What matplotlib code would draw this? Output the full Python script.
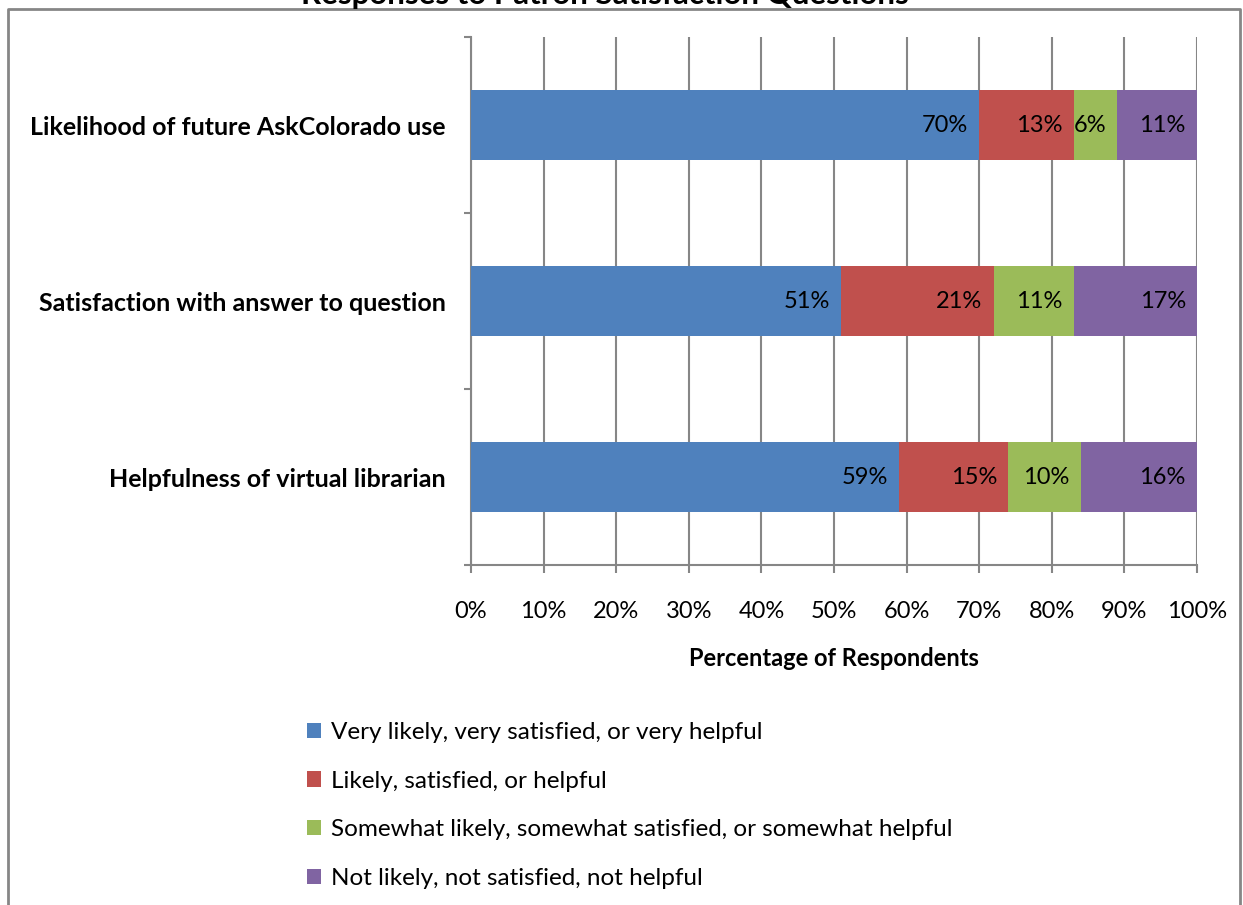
import matplotlib
matplotlib.use('Agg')

import matplotlib.pyplot as plt
from matplotlib.lines import Line2D
from matplotlib.patches import Patch

# Data
questions = ['Helpfulness of virtual librarian',
             'Satisfaction with answer to question',
             'Likelihood of future AskColorado use']
very = [59, 51, 70]
likely = [15, 21, 13]
somewhat = [10, 11, 6]
not_likely = [16, 17, 11]
series_names = ['Very likely, very satisfied, or very helpful',
                'Likely, satisfied, or helpful',
                'Somewhat likely, somewhat satisfied, or somewhat helpful',
                'Not likely, not satisfied, not helpful']
colors = ['#4F81BD', '#C0504D', '#9BBB59', '#8064A2']
xticks = list(range(0, 101, 10))

plt.rcParams['font.family'] = ['Lato', 'DejaVu Sans']
grey = '#868686'

fig = plt.figure(figsize=(12.43, 9.05), dpi=100)
ax = fig.add_axes([471 / 1243, 1 - 565 / 905, 726 / 1243, 528 / 905])

ypos = list(range(len(questions)))
left = [0] * len(questions)
for vals, col in zip([very, likely, somewhat, not_likely], colors):
    ax.barh(ypos, vals, left=left, height=0.4, color=col, zorder=3)
    for y, l, v in zip(ypos, left, vals):
        ax.annotate('%d%%' % v, xy=(l + v, y), xytext=(-8, 0),
                    textcoords='offset points', ha='right', va='center',
                    fontsize=17, zorder=4)
    left = [a + b for a, b in zip(left, vals)]

ax.set_xlim(0, 100)
ax.set_ylim(-0.5, 2.5)
ax.set_xticks(xticks)
ax.set_xticklabels(['%d%%' % t for t in xticks], fontsize=17)
ax.set_yticks(ypos)
ax.set_yticklabels(questions, fontsize=18, fontweight='bold')
ax.tick_params(axis='y', length=0, pad=18)
ax.tick_params(axis='x', length=6, color=grey, width=1.5, pad=20)
# minor ticks on y between categories
ax.set_yticks([-0.5, 0.5, 1.5, 2.5], minor=True)
ax.tick_params(axis='y', which='minor', length=5, color=grey, width=1.5)

ax.grid(axis='x', color=grey, linewidth=1.5, zorder=0)
for s in ['top', 'right']:
    ax.spines[s].set_visible(False)
for s in ['left', 'bottom']:
    ax.spines[s].set_color(grey)
    ax.spines[s].set_linewidth(1.5)

ax.set_xlabel('Percentage of Respondents', fontsize=17, fontweight='bold',
              labelpad=18)

handles = [Patch(facecolor=c) for c in colors]
fig.legend(handles, series_names, loc='upper left',
           bbox_to_anchor=(285 / 1243, 1 - 700 / 905), frameon=False,
           fontsize=17.5, handlelength=0.6, handleheight=0.6,
           handletextpad=0.4, labelspacing=1.14)

# chart border and clipped title
fig.add_artist(Line2D([8 / 1243, 8 / 1243, 1240 / 1243, 1240 / 1243],
                      [0, 1 - 9 / 905, 1 - 9 / 905, 0],
                      color=grey, linewidth=2))
fig.text(605 / 1243, 1 - 4 / 905, 'Responses to Patron Satisfaction Questions',
         ha='center', va='baseline', fontsize=22.5, fontweight='bold')

fig.savefig('out.png', dpi=100)
